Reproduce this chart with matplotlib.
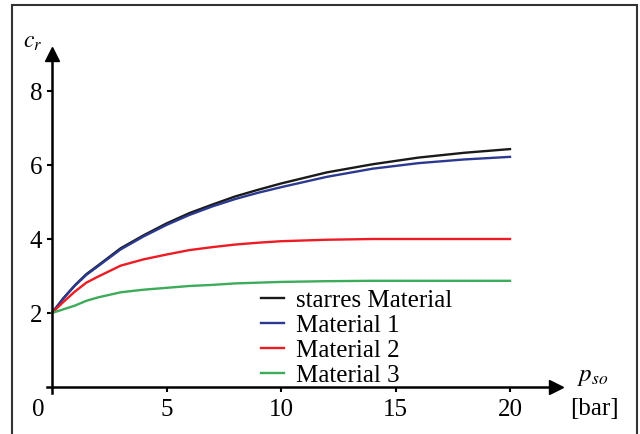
import matplotlib
matplotlib.use("Agg")
import matplotlib.pyplot as plt
from matplotlib.patches import Rectangle

plt.rcParams['font.family'] = 'Liberation Serif'
plt.rcParams['mathtext.fontset'] = 'stix'

# pressure p_so [bar]
p = [0, 0.5, 1, 1.5, 2, 3, 4, 5, 6, 7, 8, 9, 10, 12, 14, 16, 18, 20]
# c_r for the four materials
starr = [2.0, 2.4, 2.75, 3.05, 3.28, 3.75, 4.1, 4.42, 4.7, 4.93, 5.15, 5.33, 5.5, 5.8, 6.02, 6.2, 6.33, 6.43]
mat1 = [2.0, 2.4, 2.74, 3.03, 3.26, 3.72, 4.07, 4.38, 4.65, 4.88, 5.08, 5.25, 5.4, 5.68, 5.9, 6.05, 6.15, 6.22]
mat2 = [2.0, 2.3, 2.58, 2.82, 2.98, 3.28, 3.45, 3.58, 3.7, 3.78, 3.85, 3.9, 3.94, 3.98, 4.0, 4.0, 4.0, 4.0]
mat3 = [2.0, 2.1, 2.2, 2.33, 2.42, 2.56, 2.63, 2.68, 2.73, 2.76, 2.8, 2.82, 2.84, 2.86, 2.87, 2.87, 2.87, 2.87]

labels = ['starres Material', 'Material 1', 'Material 2', 'Material 3']
colors = ['#1a1a1a', '#2b3990', '#ed1c24', '#3cab5a']
xticks = [5, 10, 15, 20]
yticks = [2, 4, 6, 8]

fig = plt.figure(figsize=(6.4, 4.35), dpi=100)
ax = fig.add_axes([0, 0, 1, 1])
ax.set_xlim(-52 / 22.9, (640 - 52) / 22.9)
ax.set_ylim((388 - 435) / 37, 388 / 37)

for ys, lab, c in zip([starr, mat1, mat2, mat3], labels, colors):
    ax.plot(p, ys, color=c, lw=1.7, label=lab)

# axes through the origin, with arrows
for s in ['top', 'right']:
    ax.spines[s].set_visible(False)
ax.spines['left'].set_position(('data', 0))
ax.spines['bottom'].set_position(('data', 0))
ax.spines['left'].set_bounds(-0.15, 9.0)
ax.spines['bottom'].set_bounds(-0.22, 21.8)
ax.spines['left'].set_linewidth(1.8)
ax.spines['bottom'].set_linewidth(1.8)
ax.plot(22.0, 0, marker='>', ms=10, color='k', clip_on=False)
ax.plot(0, 9.0, marker='^', ms=10, color='k', clip_on=False)

ax.set_xticks(xticks)
ax.set_xticklabels([str(t) for t in xticks])
ax.set_yticks(yticks)
ax.set_yticklabels([str(t) for t in yticks])
ax.tick_params(axis='x', direction='out', length=3.5, width=1.5, labelsize=18, pad=4.5)
ax.tick_params(axis='y', direction='out', length=3.5, width=1.5, labelsize=18, pad=3.5)
ax.text(-0.6, -0.6, '0', fontsize=18, ha='center', va='center')

ax.text(-0.85, 9.35, '$c_r$', fontsize=17, ha='center', va='center')
ax.text(23.6, 0.3, '$p_{so}$', fontsize=18, ha='center', va='center')
ax.text(23.7, -0.58, '[bar]', fontsize=18, ha='center', va='center')

ax.legend(loc='upper left', bbox_to_anchor=(261 / 640, 1 - 290 / 435),
          bbox_transform=fig.transFigure, frameon=False, fontsize=18,
          handlelength=0.9, handletextpad=0.5, labelspacing=0.1,
          borderpad=0, borderaxespad=0)

fig.patches.append(Rectangle((12 / 640, -0.05), 625 / 640, 1.05 - 6 / 435,
                             transform=fig.transFigure, fill=False,
                             ec='#333333', lw=1.5))

fig.savefig('out.png', dpi=100)
